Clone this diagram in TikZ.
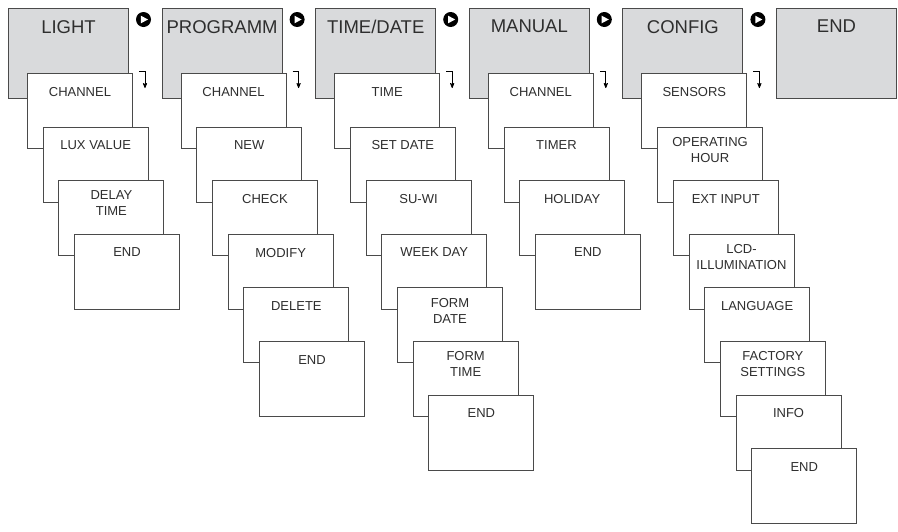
\documentclass[tikz,border=0pt]{standalone}
\usepackage{fontspec}
\setmainfont{Liberation Sans}
\usetikzlibrary{arrows,positioning}

\definecolor{menugray}{HTML}{D9DADC}
\definecolor{framegray}{HTML}{4A4A4A}
\definecolor{ink}{HTML}{2E2E2E}

\tikzset{
  menu/.style={draw=framegray, fill=menugray, line width=1pt, anchor=north west,
    inner sep=0pt, minimum width=120pt, minimum height=90pt, label={[head]north:#1}},
  head/.style={anchor=north, yshift=-12pt, inner sep=0pt, text=ink,
    font=\fontsize{18.5}{22}\selectfont},
  box/.style={draw=framegray, fill=white, line width=0.9pt, anchor=north west,
    inner sep=0pt, minimum width=105pt, minimum height=75pt},
  entry/.style={anchor=north, yshift=-14pt, inner sep=0pt, align=center, text=ink,
    font=\fontsize{13}{16}\selectfont},
  sub/.style={box, label={[entry]north:#1}},
  subtwo/.style={box, label={[entry, yshift=3.5pt]north:#1}},
  firstof/.style={at={([shift={(19pt,-65pt)}]#1.north west)}},
  nextof/.style={at={([shift={(15.7pt,-53.6pt)}]#1.north west)}},
  play/.style={circle, fill=black, minimum size=15pt, inner sep=0pt,
    path picture={\fill[white] ([shift={(-2.6pt,3.8pt)}]path picture bounding box.center)
      -- ([shift={(-2.6pt,-3.8pt)}]path picture bounding box.center)
      -- ([shift={(4.5pt,0pt)}]path picture bounding box.center) -- cycle;}},
  turn/.style={->, >=stealth', draw=black, line width=0.8pt}
}

\begin{document}
\begin{tikzpicture}
  \fill[white] (0,0) rectangle (898pt,-531pt);
  \useasboundingbox (0,0) rectangle (898pt,-531pt);

  % main menu row
  \node[menu=LIGHT] (light) at (8pt,-8pt) {};
  \node[menu=PROGRAMM, right=32.6pt of light.north east, anchor=north west] (prog) {};
  \node[menu=TIME/DATE, right=32.6pt of prog.north east, anchor=north west] (timedate) {};
  \node[menu=MANUAL, right=32.6pt of timedate.north east, anchor=north west] (manual) {};
  \node[menu=CONFIG, right=32.6pt of manual.north east, anchor=north west] (config) {};
  \node[menu=END, right=32.6pt of config.north east, anchor=north west] (fin) {};

  \node[play] (go1) at ([shift={(14.5pt,-11.5pt)}]light.north east) {};
  \node[play] (go2) at ([shift={(14.5pt,-11.5pt)}]prog.north east) {};
  \node[play] (go3) at ([shift={(14.5pt,-11.5pt)}]timedate.north east) {};
  \node[play] (go4) at ([shift={(14.5pt,-11.5pt)}]manual.north east) {};
  \node[play] (go5) at ([shift={(14.5pt,-11.5pt)}]config.north east) {};

  \draw[turn] ([shift={(10pt,-63pt)}]light.north east) -| ++(6pt,-17pt);
  \draw[turn] ([shift={(10pt,-63pt)}]prog.north east) -| ++(6pt,-17pt);
  \draw[turn] ([shift={(10pt,-63pt)}]timedate.north east) -| ++(6pt,-17pt);
  \draw[turn] ([shift={(10pt,-63pt)}]manual.north east) -| ++(6pt,-17pt);
  \draw[turn] ([shift={(10pt,-63pt)}]config.north east) -| ++(6pt,-17pt);

  % LIGHT
  \node[sub=CHANNEL, firstof=light] (l1) {};
  \node[sub={LUX VALUE}, nextof=l1] (l2) {};
  \node[subtwo={DELAY\\TIME}, nextof=l2] (l3) {};
  \node[sub=END, nextof=l3] (l4) {};

  % PROGRAMM
  \node[sub=CHANNEL, firstof=prog] (p1) {};
  \node[sub=NEW, nextof=p1] (p2) {};
  \node[sub=CHECK, nextof=p2] (p3) {};
  \node[sub=MODIFY, nextof=p3] (p4) {};
  \node[sub=DELETE, nextof=p4] (p5) {};
  \node[sub=END, nextof=p5] (p6) {};

  % TIME/DATE
  \node[sub=TIME, firstof=timedate] (t1) {};
  \node[sub={SET DATE}, nextof=t1] (t2) {};
  \node[sub=SU-WI, nextof=t2] (t3) {};
  \node[sub={WEEK DAY}, nextof=t3] (t4) {};
  \node[subtwo={FORM\\DATE}, nextof=t4] (t5) {};
  \node[subtwo={FORM\\TIME}, nextof=t5] (t6) {};
  \node[sub=END, nextof=t6] (t7) {};

  % MANUAL
  \node[sub=CHANNEL, firstof=manual] (m1) {};
  \node[sub=TIMER, nextof=m1] (m2) {};
  \node[sub=HOLIDAY, nextof=m2] (m3) {};
  \node[sub=END, nextof=m3] (m4) {};

  % CONFIG
  \node[sub=SENSORS, firstof=config] (c1) {};
  \node[subtwo={OPERATING\\HOUR}, nextof=c1] (c2) {};
  \node[sub={EXT INPUT}, nextof=c2] (c3) {};
  \node[subtwo={LCD-\\ILLUMINATION}, nextof=c3] (c4) {};
  \node[sub=LANGUAGE, nextof=c4] (c5) {};
  \node[subtwo={FACTORY\\SETTINGS}, nextof=c5] (c6) {};
  \node[sub=INFO, nextof=c6] (c7) {};
  \node[sub=END, nextof=c7] (c8) {};
\end{tikzpicture}
\end{document}
